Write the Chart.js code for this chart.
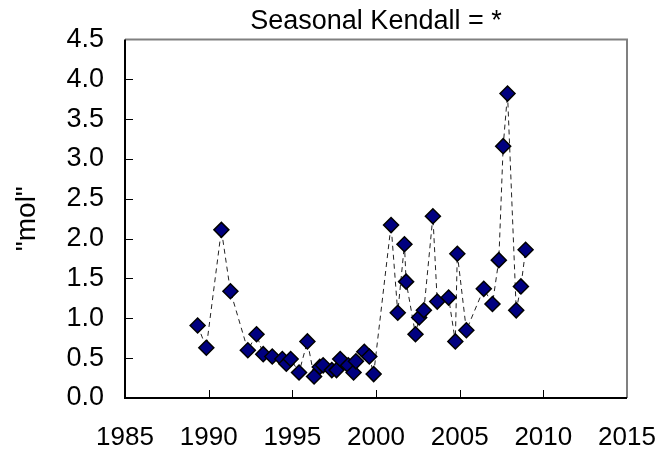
<!DOCTYPE html>
<html>
<head>
<meta charset="utf-8">
<script src="https://cdn.jsdelivr.net/npm/chart.js@4"></script>
<style>
  body { margin: 0; background: #fff; }
  #wrap { width: 660px; height: 452px; }
</style>
</head>
<body>
<div id="wrap"><canvas id="chart"></canvas></div>
<script>
let years = [1989.34, 1989.86, 1990.76, 1991.30, 1992.34, 1992.86, 1993.26, 1993.80, 1994.40, 1994.64,
    1994.90, 1995.40, 1995.90, 1996.30, 1996.64, 1996.84, 1997.36, 1997.64, 1997.86, 1998.34,
    1998.66, 1998.80, 1999.30, 1999.60, 1999.86, 2000.90, 2001.30, 2001.70, 2001.80, 2002.36,
    2002.58, 2002.86, 2003.40, 2003.66, 2004.34, 2004.74, 2004.86, 2005.40, 2006.44, 2006.96,
    2007.34, 2007.60, 2007.86, 2008.38, 2008.66, 2008.94]
let values = [0.91, 0.63, 2.11, 1.34, 0.60, 0.80, 0.55, 0.52, 0.49, 0.43,
    0.49, 0.32, 0.71, 0.27, 0.39, 0.41, 0.35, 0.35, 0.49, 0.41,
    0.32, 0.46, 0.58, 0.52, 0.30, 2.17, 1.07, 1.93, 1.46, 0.80,
    1.01, 1.10, 2.28, 1.21, 1.26, 0.71, 1.81, 0.85, 1.37, 1.18,
    1.73, 3.16, 3.82, 1.10, 1.40, 1.86]
let xTicks = [1985, 1990, 1995, 2000, 2005, 2010, 2015]
let yTicks = [0, 0.5, 1, 1.5, 2, 2.5, 3, 3.5, 4, 4.5]
let subtitle = 'Seasonal Kendall = *'
let yTitle = '"mol"'

let font = 'Liberation Sans, Arial, sans-serif'

// inward tick marks + gray top/right frame
let frame = {
    id: 'frame',
    afterDatasetsDraw(chart) {
        let ctx = chart.ctx
        let a = chart.chartArea
        let xs = chart.scales.x
        let ys = chart.scales.y
        ctx.save()
        ctx.strokeStyle = '#000'
        ctx.lineWidth = 1
        ctx.beginPath()
        xTicks.slice(1, -1).forEach((t) => {
            let px = Math.round(xs.getPixelForValue(t)) + 0.5
            ctx.moveTo(px, a.bottom)
            ctx.lineTo(px, a.bottom - 8)
        })
        yTicks.slice(1, -1).forEach((t) => {
            let py = Math.round(ys.getPixelForValue(t)) + 0.5
            ctx.moveTo(a.left, py)
            ctx.lineTo(a.left + 8, py)
        })
        ctx.stroke()
        ctx.strokeStyle = '#808080'
        ctx.lineWidth = 2
        ctx.beginPath()
        ctx.moveTo(a.left, a.top)
        ctx.lineTo(a.right, a.top)
        ctx.lineTo(a.right, a.bottom)
        ctx.stroke()
        ctx.strokeStyle = '#000'
        ctx.beginPath()
        ctx.moveTo(a.left, a.top)
        ctx.lineTo(a.left, a.bottom)
        ctx.lineTo(a.right, a.bottom)
        ctx.stroke()
        ctx.restore()
    }
}

let ctx = document.getElementById('chart').getContext('2d')
let chart = new Chart(ctx, {
    type: 'line',
    data: {
        datasets: [{
            data: years.map((y, i) => ({ x: y, y: values[i] })),
            borderColor: '#222',
            borderWidth: 1,
            borderDash: [5, 4],
            pointStyle: 'rectRot',
            pointRadius: 7.5,
            pointBackgroundColor: '#000080',
            pointBorderColor: '#000',
            pointBorderWidth: 1.5,
            tension: 0
        }]
    },
    options: {
        responsive: true,
        maintainAspectRatio: false,
        animation: false,
        layout: { padding: { left: 0, right: 33, top: 0, bottom: 0 } },
        plugins: {
            legend: { display: false },
            tooltip: { enabled: false },
            title: {
                display: true,
                text: subtitle,
                fullSize: false,
                color: '#000',
                font: { family: font, size: 27, weight: 'normal' },
                padding: { top: 5, bottom: 2 }
            }
        },
        scales: {
            x: {
                type: 'linear',
                min: 1985,
                max: 2015,
                afterBuildTicks: (s) => { s.ticks = xTicks.map((v) => ({ value: v })) },
                afterFit: (s) => {
                    s.height = 54
                    s.paddingLeft = 0
                    s.paddingRight = 0
                },
                grid: { display: false, drawTicks: false },
                border: { display: false },
                ticks: {
                    color: '#000',
                    padding: 24,
                    maxRotation: 0,
                    font: { family: font, size: 26 },
                    callback: (v) => String(v)
                }
            },
            y: {
                min: 0,
                max: 4.5,
                afterBuildTicks: (s) => { s.ticks = yTicks.map((v) => ({ value: v })) },
                afterFit: (s) => { s.width = 125 },
                grid: { display: false, drawTicks: false },
                border: { display: false },
                title: {
                    display: true,
                    text: yTitle,
                    color: '#000',
                    font: { family: font, size: 28 },
                    padding: { top: 10, bottom: 0 }
                },
                ticks: {
                    color: '#000',
                    padding: 21,
                    font: { family: font, size: 27 },
                    callback: (v) => v.toFixed(1)
                }
            }
        }
    },
    plugins: [frame]
})
</script>
</body>
</html>
